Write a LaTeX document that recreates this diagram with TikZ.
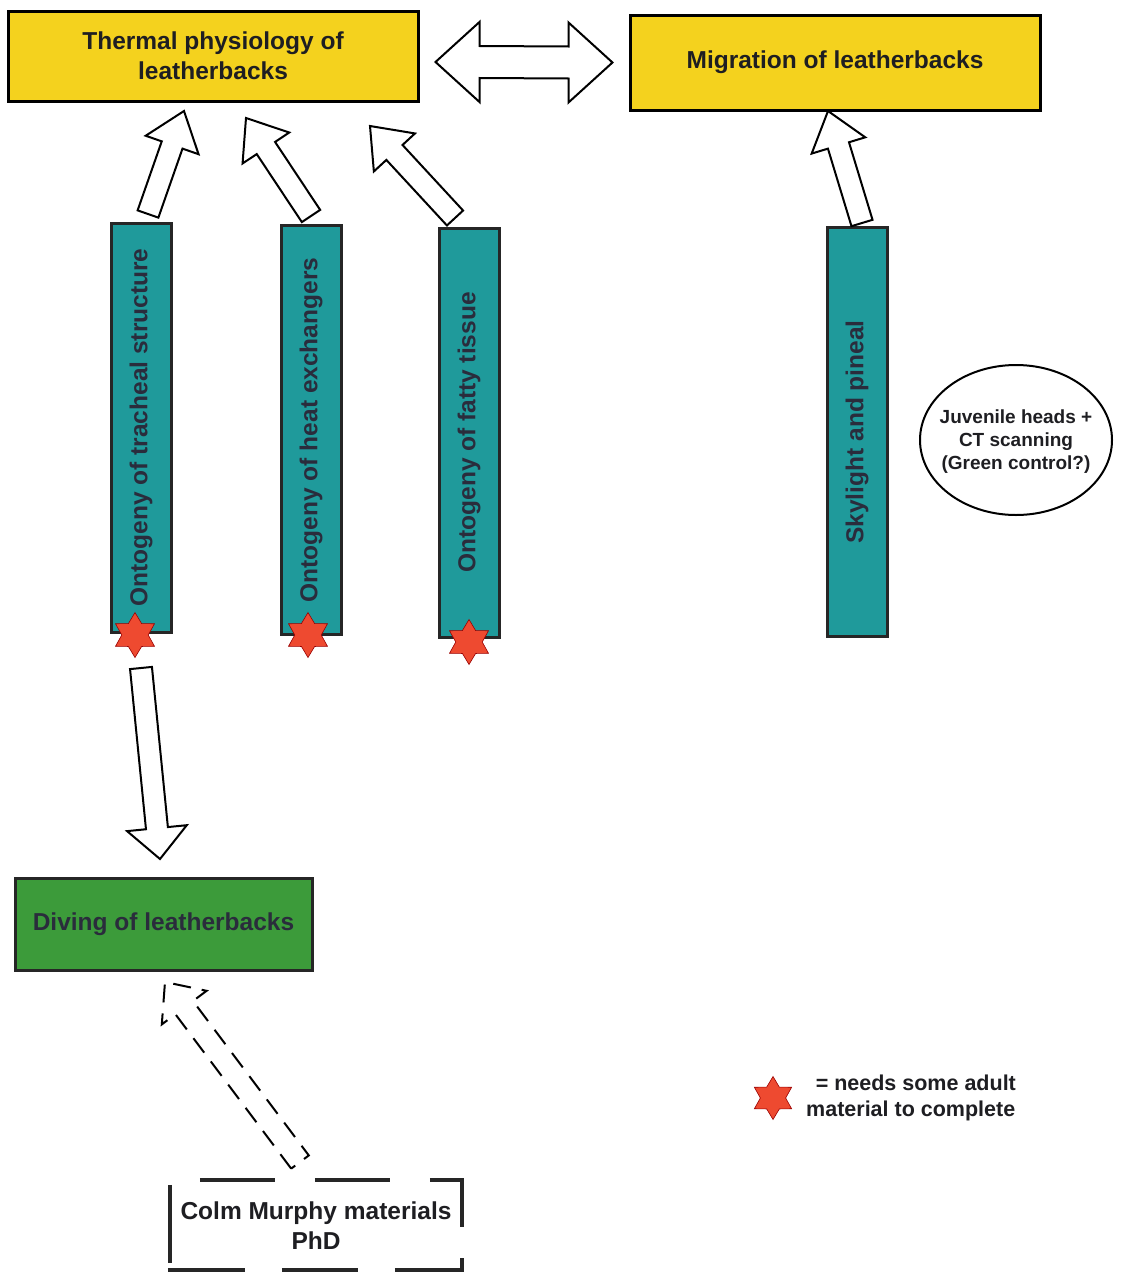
\documentclass[tikz,border=0pt]{standalone}
\usepackage{fontspec}
\setmainfont{Liberation Sans}
\usetikzlibrary{shapes.geometric,calc}
\definecolor{ybox}{HTML}{F4D21E}
\definecolor{tbar}{HTML}{1F9A9B}
\definecolor{gbox}{HTML}{3C9B3A}
\definecolor{sred}{HTML}{EE4A30}
\definecolor{txt}{HTML}{1E1E22}
\definecolor{bartxt}{HTML}{2A2C3C}
\newcommand\blockarrow[6]{%
  \coordinate (ba) at ($(#3)!#6pt!(#2)$);
  \draw[#1] ($(#2)!#4pt!90:(#3)$) -- ($(ba)!#4pt!90:(#3)$) -- ($(ba)!#5pt!90:(#3)$)
    -- (#3) -- ($(ba)!#5pt!-90:(#3)$) -- ($(ba)!#4pt!-90:(#3)$) -- ($(#2)!#4pt!-90:(#3)$) -- cycle;}
\begin{document}
\begin{tikzpicture}[x=1pt,y=-1pt,
  mainfont/.style={font=\bfseries\fontsize{24.5}{30}\selectfont},
  ybx/.style={draw=black, line width=3pt, fill=ybox, mainfont, text=txt, align=center, inner sep=0pt},
  barbox/.style={draw=black!85, line width=3pt, fill=tbar, mainfont, text=bartxt, rotate=90,
     minimum width=409pt, minimum height=60pt, inner sep=0pt},
  starbox/.style={star, star points=6, star point ratio=1.7, minimum size=45pt, inner sep=0pt,
     fill=sred, draw=red!60!black, line width=0.6pt},
  barrow/.style={draw=black, line width=2pt, fill=white, line join=miter},
]
\useasboundingbox (0,0) rectangle (1139,1274);

% top boxes
\node[ybx, minimum width=410pt, minimum height=90pt] (thermal) at (213,56) {Thermal physiology of\\leatherbacks};
\node[ybx, minimum width=410pt, minimum height=95pt] (migration) at (835,62.5) {Migration of leatherbacks};

% double arrow
\coordinate (lt) at ($(thermal.east)+(16,6)$);
\coordinate (rt) at ($(migration.west)+(-16,0)$);
\draw[barrow] (lt) -- ++(44,-40) -- ++(0,24) -- ($(rt)+(-44,-16)$) -- ++(0,-24) -- (rt)
  -- ++(-44,40) -- ++(0,-24) -- ($(lt)+(44,16)$) -- ++(0,24) -- cycle;

% bars
\node[barbox] (bar1) at (141,427.5) {Ontogeny of tracheal structure};
\node[barbox] (bar2) at (311,430) {Ontogeny of heat exchangers};
\node[barbox] (bar3) at (469,432.5) {Ontogeny of fatty tissue};
\node[barbox] (bar4) at (857,432) {Skylight and pineal};

% up arrows
\coordinate (a1s) at (148,214); \coordinate (a1e) at (184,111);
\coordinate (a2s) at (311,216); \coordinate (a2e) at (246,118);
\coordinate (a3s) at (455,218); \coordinate (a3e) at (370,126);
\coordinate (a4s) at (862,223); \coordinate (a4e) at (828,111);
\blockarrow{barrow}{a1s}{a1e}{11}{28}{36}
\blockarrow{barrow}{a2s}{a2e}{11}{28}{36}
\blockarrow{barrow}{a3s}{a3e}{11}{28}{36}
\blockarrow{barrow}{a4s}{a4e}{11}{28}{36}

% stars
\node[starbox] (st1) at (135,635) {};
\node[starbox] (st2) at (308,635) {};
\node[starbox] (st3) at (469,642) {};

% ellipse
\node[font=\bfseries\fontsize{19}{23}\selectfont, text=txt, align=center, inner sep=0pt] (juv) at (1016,442)
  {Juvenile heads +\\CT scanning\\(Green control?)};
\draw[black, line width=2pt] (1016,440) ellipse [x radius=96, y radius=75];

% diving
\node[draw=black!85, line width=3pt, fill=gbox, mainfont, text=bartxt, minimum width=297pt,
  minimum height=92pt, inner sep=0pt] (diving) at (163.5,924) {Diving of leatherbacks};

% down arrow
\coordinate (dns) at (141,668); \coordinate (dne) at (160,859);
\blockarrow{barrow}{dns}{dne}{11}{30}{31}

% Colm Murphy box
\node[mainfont, text=txt, align=center, minimum width=296pt, minimum height=91pt, inner sep=0pt]
  (colm) at (316,1225.5) {Colm Murphy materials\\PhD};
\begin{scope}[line width=3.5pt, draw=black!85]
\draw ($(colm.north west)+(2,5)$) -- ($(colm.south west)+(2,-8)$);
\draw ($(colm.north west)+(32,0)$) -- ++(75,0);
\draw ($(colm.north west)+(147,0)$) -- ++(75,0);
\draw ($(colm.north west)+(262,0)$) -- ($(colm.north east)+(-2,0)$) -- ($(colm.north east)+(-2,47)$);
\draw ($(colm.south west)+(0,-1)$) -- ++(77,0);
\draw ($(colm.south west)+(114,-1)$) -- ++(76,0);
\draw ($(colm.south west)+(227,-1)$) -- ($(colm.south east)+(-2,-1)$) -- ($(colm.south east)+(-2,-13)$);
\end{scope}

% dashed arrow
\coordinate (dds) at (300,1162); \coordinate (dde) at (165,982);
\blockarrow{barrow, dash pattern=on 18pt off 11pt, line width=2pt}{dds}{dde}{11}{28}{32}

% legend
\node[starbox, minimum size=43pt] (lst) at (773,1098) {};
\node[font=\bfseries\fontsize{21.5}{26}\selectfont, text=txt, align=left, anchor=west, inner sep=0pt]
  (legend) at (806,1098) {\ \,= needs some adult\\material to complete};
\end{tikzpicture}
\end{document}
